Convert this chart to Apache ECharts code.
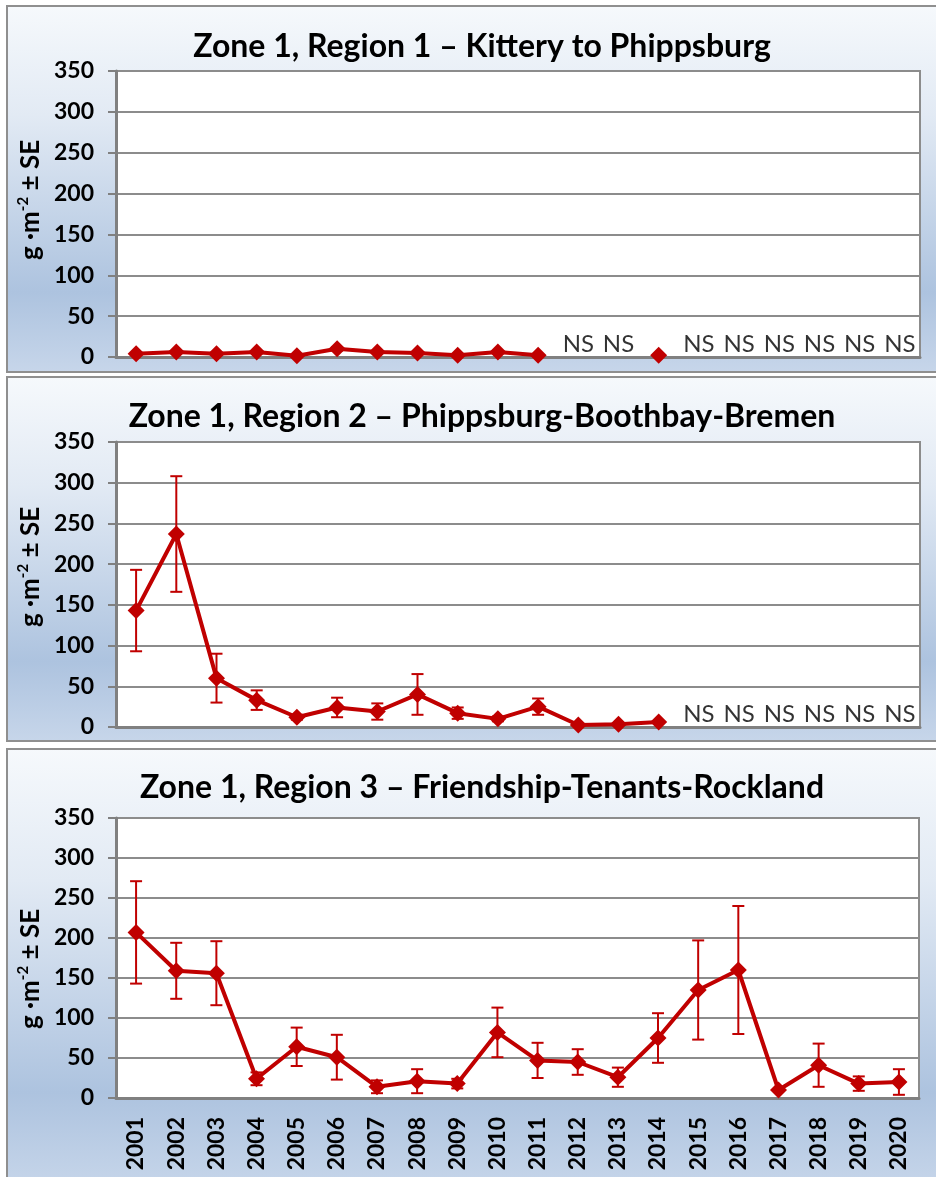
<!DOCTYPE html>
<html>
<head>
<meta charset="utf-8">
<title>Zone 1 biomass</title>
<script src="https://cdn.jsdelivr.net/npm/echarts@6/dist/echarts.min.js"></script>
<style>
  html, body { margin: 0; padding: 0; background: #fff; }
  #chart { width: 936px; height: 1177px; }
</style>
</head>
<body>
<div id="chart"></div>
<script>
// data (g per m2, mean and SE)
var years = ['2001', '2002', '2003', '2004', '2005', '2006', '2007', '2008', '2009', '2010',
  '2011', '2012', '2013', '2014', '2015', '2016', '2017', '2018', '2019', '2020']
var yTicks = [0, 50, 100, 150, 200, 250, 300, 350]

var titles = [
  'Zone 1, Region 1 \u2013 Kittery to Phippsburg',
  'Zone 1, Region 2 \u2013 Phippsburg-Boothbay-Bremen',
  'Zone 1, Region 3 \u2013 Friendship-Tenants-Rockland'
]

var region1 = [4, 6, 4, 6, 1.5, 10, 6, 5, 2, 6, 2, null, null, 2, null, null, null, null, null, null]
var region1SE = [1, 1, 1, 1, 1, 2, 1, 1, 1, 1, 1, 0, 0, 0, 0, 0, 0, 0, 0, 0]
var region1NS = ['2012', '2013', '2015', '2016', '2017', '2018', '2019', '2020']

var region2 = [143, 237, 60, 33, 12, 24, 19, 40, 17, 10, 25, 2.5, 3.5, 6, null, null, null, null, null, null]
var region2SE = [50, 71, 30, 12, 3, 12, 10, 25, 7, 3, 10, 1, 1, 1, 0, 0, 0, 0, 0, 0]
var region2NS = ['2015', '2016', '2017', '2018', '2019', '2020']

var region3 = [207, 159, 156, 24, 64, 51, 14, 21, 18, 82, 47, 45, 26, 75, 135, 160, 10, 41, 18, 20]
var region3SE = [64, 35, 40, 8, 24, 28, 8, 15, 6, 31, 22, 16, 12, 31, 62, 80, 0, 27, 9, 16]
var region3NS = []

var red = '#c00000'
var gridGray = '#8c8c8c'
var font = 'Lato'
var nsLevel = 16

var panels = [
  { box: [7, 6, 940, 366], grid: { left: 116, top: 71, width: 804, height: 286 }, title: 47, name: 200,
    mean: region1, se: region1SE, ns: region1NS },
  { box: [7, 377, 940, 364], grid: { left: 116, top: 442, width: 804, height: 285 }, title: 417, name: 567,
    mean: region2, se: region2SE, ns: region2NS },
  { box: [7, 749, 940, 440], grid: { left: 116, top: 818, width: 803, height: 280 }, title: 788, name: 969,
    mean: region3, se: region3SE, ns: region3NS }
]

var chart = echarts.init(document.getElementById('chart'))

var grids = []
var xAxes = []
var yAxes = []
var series = []
var graphics = []

panels.forEach(function(p, idx) {
  graphics.push({
    type: 'rect',
    z: -10,
    shape: { x: p.box[0], y: p.box[1], width: p.box[2], height: p.box[3] },
    style: {
      fill: new echarts.graphic.LinearGradient(0, 0, 0, 1, [
        { offset: 0, color: '#f6f9fc' },
        { offset: 0.3, color: '#e2eaf4' },
        { offset: 0.78, color: '#adc3df' },
        { offset: 1, color: '#c7d6ea' }
      ]),
      stroke: '#8f8f8f',
      lineWidth: 2
    }
  })
  graphics.push({
    type: 'text',
    z: 100,
    x: 482,
    y: p.title,
    style: {
      text: titles[idx],
      fontFamily: font,
      fontWeight: 'bold',
      fontSize: 32,
      fill: '#000',
      align: 'center',
      verticalAlign: 'middle',
      textAlign: 'center',
      textVerticalAlign: 'middle'
    }
  })
  graphics.push({
    type: 'text',
    z: 100,
    x: 31,
    y: p.name,
    rotation: Math.PI / 2,
    style: {
      text: '{b|g \u00b7m}{s|-2}{b| \u00b1 SE}',
      align: 'center',
      verticalAlign: 'middle',
      textAlign: 'center',
      textVerticalAlign: 'middle',
      rich: {
        b: { fontFamily: font, fontWeight: 'bold', fontSize: 26, lineHeight: 30, fill: '#000', color: '#000' },
        s: { fontFamily: font, fontWeight: 'bold', fontSize: 15, lineHeight: 15, verticalAlign: 'top', fill: '#000', color: '#000' }
      }
    }
  })

  grids.push({
    left: p.grid.left, top: p.grid.top, width: p.grid.width, height: p.grid.height,
    show: true,
    backgroundColor: '#fff',
    borderColor: gridGray,
    borderWidth: 2
  })

  xAxes.push({
    type: 'category',
    gridIndex: idx,
    data: years,
    boundaryGap: true,
    axisLine: { lineStyle: { color: '#808080', width: 3 } },
    axisTick: { show: false },
    axisLabel: {
      show: idx === 2,
      rotate: 90,
      interval: 0,
      margin: 19,
      color: '#000',
      fontFamily: font,
      fontWeight: 'bold',
      fontSize: 23
    },
    splitLine: { show: false }
  })

  yAxes.push({
    type: 'value',
    gridIndex: idx,
    min: yTicks[0],
    max: yTicks[yTicks.length - 1],
    interval: 50,
    axisLine: { show: true, lineStyle: { color: '#808080', width: 3 } },
    axisTick: { show: true, length: 8, lineStyle: { color: '#808080', width: 2 } },
    axisLabel: {
      margin: 22,
      color: '#000',
      fontFamily: font,
      fontWeight: 'bold',
      fontSize: 23
    },
    splitLine: { show: true, lineStyle: { color: gridGray, width: 2 } }
  })

  var bars = []
  p.mean.forEach(function(v, i) {
    if (v != null && p.se[i] > 0) bars.push([i, v - p.se[i], v + p.se[i]])
  })

  series.push({
    type: 'custom',
    xAxisIndex: idx,
    yAxisIndex: idx,
    z: 3,
    data: bars,
    encode: { x: 0, y: [1, 2] },
    renderItem: function(params, api) {
      var lo = api.coord([api.value(0), api.value(1)])
      var hi = api.coord([api.value(0), api.value(2)])
      var w = 6
      var st = { stroke: red, lineWidth: 2 }
      return {
        type: 'group',
        children: [
          { type: 'line', shape: { x1: hi[0], y1: hi[1], x2: lo[0], y2: lo[1] }, style: st },
          { type: 'line', shape: { x1: hi[0] - w, y1: hi[1], x2: hi[0] + w, y2: hi[1] }, style: st },
          { type: 'line', shape: { x1: lo[0] - w, y1: lo[1], x2: lo[0] + w, y2: lo[1] }, style: st }
        ]
      }
    }
  })

  series.push({
    type: 'line',
    xAxisIndex: idx,
    yAxisIndex: idx,
    z: 4,
    data: p.mean,
    symbol: 'diamond',
    symbolSize: 17,
    showAllSymbol: true,
    color: red,
    lineStyle: { color: red, width: 4 },
    itemStyle: { color: red },
    animation: false
  })

  series.push({
    type: 'scatter',
    xAxisIndex: idx,
    yAxisIndex: idx,
    z: 5,
    symbolSize: 0,
    data: p.ns.map(function(y) { return [y, nsLevel] }),
    label: {
      show: true,
      position: 'inside',
      formatter: 'NS',
      color: '#000',
      fontFamily: font,
      fontSize: 24
    },
    animation: false
  })
})

chart.setOption({
  backgroundColor: '#fff',
  animation: false,
  graphic: graphics,
  grid: grids,
  xAxis: xAxes,
  yAxis: yAxes,
  series: series
})
</script>
</body>
</html>
